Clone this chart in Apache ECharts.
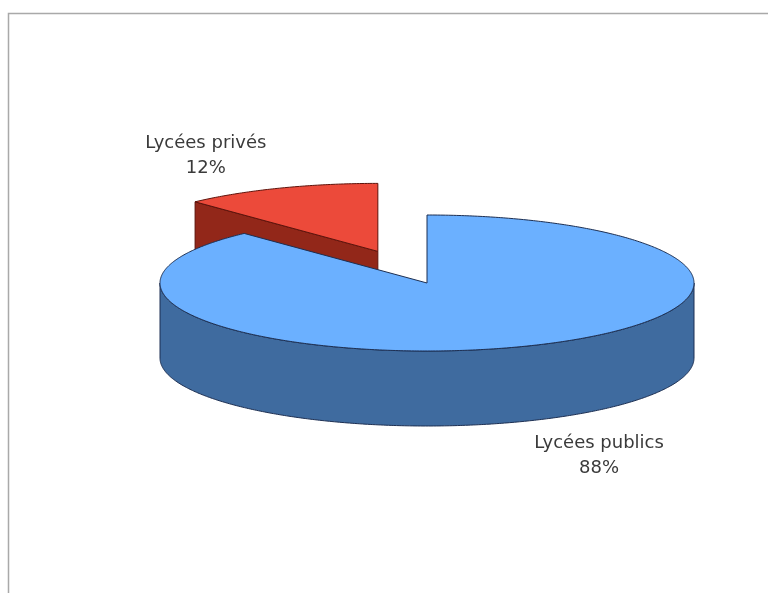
<!DOCTYPE html>
<html>
<head>
<meta charset="utf-8">
<script src="https://cdn.jsdelivr.net/npm/echarts@6.0.0/dist/echarts.min.js"></script>
<style>
  html, body { margin: 0; padding: 0; background: #ffffff; }
  #chart { width: 768px; height: 593px; }
</style>
</head>
<body>
<div id="chart"></div>
<script>
// ---- data ----
const categories = ['Lycées publics', 'Lycées privés'];
const values = [88, 12];
const explodeFactor = [0, 0.5];

// ---- style / layout ----
const topColors = ['#6bb0ff', '#ec4a3a'];
const sideColors = ['#3f6b9f', '#922719'];
const edgeColors = ['#1d2f52', '#5e130b'];
const PIE = { cx: 427, cy: 283, rx: 267, ry: 68, depth: 75 };
const LABEL = { kx: 1.75, ky: 1.53 };

const total = values.reduce((a, b) => a + b, 0);

function sliceAngles(i) {
  let start = 90;
  for (let k = 0; k < i; k++) start -= values[k] / total * 360;
  const end = start - values[i] / total * 360;
  return { hi: start * Math.PI / 180, lo: end * Math.PI / 180 };
}

// back-to-front rank
const mids = values.map((v, i) => { const a = sliceAngles(i); return (a.hi + a.lo) / 2; });
const order = mids.map((m, i) => i).sort((a, b) => Math.sin(mids[b]) - Math.sin(mids[a]));
const rank = [];
order.forEach((idx, r) => { rank[idx] = r; });

function renderItem(params, api) {
  const i = params.dataIndex;
  const { hi, lo } = sliceAngles(i);
  const mid = (hi + lo) / 2;
  const ex = explodeFactor[i];
  const cx = PIE.cx + PIE.rx * ex * Math.cos(mid);
  const cy = PIE.cy - PIE.ry * ex * Math.sin(mid);
  const D = PIE.depth;
  const P = (a, d) => [cx + PIE.rx * Math.cos(a), cy - PIE.ry * Math.sin(a) + (d || 0)];
  const arc = (a0, a1, d) => {
    const pts = [];
    const n = Math.max(2, Math.ceil(Math.abs(a1 - a0) / 0.01));
    for (let s = 0; s <= n; s++) pts.push(P(a0 + (a1 - a0) * s / n, d));
    return pts;
  };
  const base = rank[i] * 10;
  const children = [];
  const sideStyle = { fill: sideColors[i], stroke: edgeColors[i], lineWidth: 1, lineJoin: 'round' };

  // radial faces
  if (Math.cos(hi) < -1e-6) {
    const p = P(hi);
    children.push({ type: 'polygon', z2: base + 1,
      shape: { points: [[cx, cy], p, [p[0], p[1] + D], [cx, cy + D]] }, style: sideStyle });
  }
  if (Math.cos(lo) > 1e-6) {
    const p = P(lo);
    children.push({ type: 'polygon', z2: base + 1,
      shape: { points: [[cx, cy], p, [p[0], p[1] + D], [cx, cy + D]] }, style: sideStyle });
  }
  // outer wall (front half: sin < 0)
  for (let n = -3; n <= 3; n++) {
    const w0 = -Math.PI + 2 * Math.PI * n, w1 = 2 * Math.PI * n;
    const a0 = Math.max(lo, w0), a1 = Math.min(hi, w1);
    if (a1 > a0) {
      const top = arc(a0, a1, 0);
      const bot = arc(a1, a0, D);
      children.push({ type: 'polygon', z2: base + 2,
        shape: { points: top.concat(bot) }, style: sideStyle });
    }
  }
  // top face
  const topPts = [[cx, cy]].concat(arc(lo, hi, 0));
  children.push({ type: 'polygon', z2: base + 3,
    shape: { points: topPts },
    style: { fill: topColors[i], stroke: edgeColors[i], lineWidth: 1, lineJoin: 'round' } });

  // label
  let lx = PIE.cx + PIE.rx * LABEL.kx * Math.cos(mid);
  let ly = PIE.cy - PIE.ry * LABEL.ky * Math.sin(mid) + (Math.sin(mid) < 0 ? D : 0);
  if (ex) {
    lx += PIE.rx * ex * Math.cos(mid);
    ly -= PIE.ry * ex * Math.sin(mid);
  }
  const pct = Math.round(values[i] / total * 100) + '%';
  children.push({ type: 'text', z2: 100,
    style: { text: categories[i] + '\n' + pct, x: lx, y: ly + 1, align: 'center', verticalAlign: 'middle',
      fontFamily: 'DejaVu Sans', fontSize: 18, lineHeight: 25, fill: '#3a3a3a' } });

  return { type: 'group', children };
}

const chart = echarts.init(document.getElementById('chart'), null, { renderer: 'canvas' });
chart.setOption({
  animation: false,
  backgroundColor: '#ffffff',
  graphic: [{
    type: 'rect', z: -1,
    shape: { x: 8.5, y: 13.5, width: 900, height: 700 },
    style: { fill: 'none', stroke: '#a9a9a9', lineWidth: 1.5 }
  }],
  series: [{
    type: 'custom',
    coordinateSystem: 'none',
    renderItem: renderItem,
    data: values.map((v, i) => ({ name: categories[i], value: v }))
  }]
});
</script>
</body>
</html>
